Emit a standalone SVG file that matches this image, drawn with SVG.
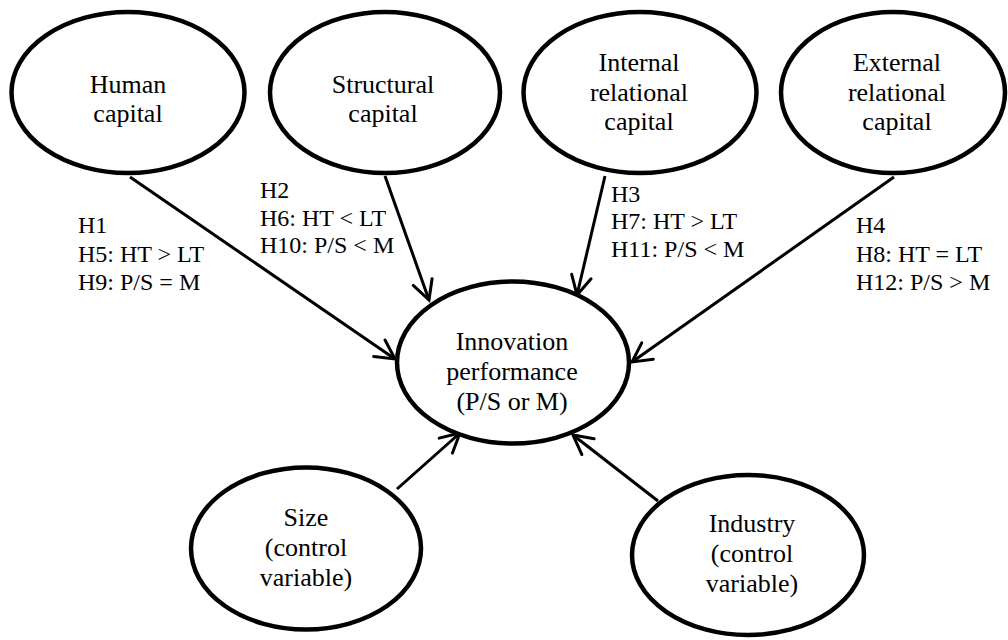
<svg xmlns="http://www.w3.org/2000/svg" width="1008" height="640" viewBox="0 0 1008 640">
<defs>
<style>
.node ellipse{fill:#fff;stroke:#000;stroke-width:4.5}
.node text{font-size:26px;fill:#000;text-anchor:middle}
.lbl text{font-size:24px;fill:#000}
.edges line{stroke:#000;stroke-width:3;marker-end:url(#arr)}
</style>
<marker id="arr" markerUnits="userSpaceOnUse" markerWidth="26" markerHeight="26" viewBox="0 0 26 26" refX="23" refY="13" orient="auto">
<path d="M4,3 L23,13 L4,23" fill="none" stroke="#000" stroke-width="3" stroke-linecap="round"/>
</marker>
</defs>
<rect width="1008" height="640" fill="#fff"/>
<g class="edges" id="connectors">
<line x1="130" y1="177" x2="395" y2="359"/>
<line x1="385" y1="176" x2="429" y2="300"/>
<line x1="605" y1="176" x2="577" y2="295"/>
<line x1="894" y1="177" x2="632" y2="362"/>
<line x1="397" y1="489" x2="460" y2="433"/>
<line x1="658" y1="501" x2="573" y2="435"/>
</g>
<g font-family="'Liberation Serif', Tinos, 'Times New Roman', 'Nimbus Roman', 'DejaVu Serif', serif">
<g class="node" id="human">
<ellipse cx="128" cy="92.5" rx="116.5" ry="80.5"/>
<text x="128" y="93">Human</text>
<text x="128" y="122">capital</text>
</g>
<g class="node" id="structural">
<ellipse cx="385" cy="92.5" rx="115" ry="80.5"/>
<text x="383" y="93">Structural</text>
<text x="383" y="122">capital</text>
</g>
<g class="node" id="internal">
<ellipse cx="640" cy="92.5" rx="116.5" ry="80.5"/>
<text x="639" y="71">Internal</text>
<text x="639" y="100.5">relational</text>
<text x="639" y="130">capital</text>
</g>
<g class="node" id="external">
<ellipse cx="893" cy="92.5" rx="112" ry="80.5"/>
<text x="897" y="71">External</text>
<text x="897" y="100.5">relational</text>
<text x="897" y="130">capital</text>
</g>
<g class="node" id="innovation">
<ellipse cx="513" cy="362.5" rx="116" ry="81"/>
<text x="512" y="350">Innovation</text>
<text x="512" y="380">performance</text>
<text x="512" y="410">(P/S or M)</text>
</g>
<g class="node" id="size">
<ellipse cx="306" cy="548.5" rx="115" ry="81"/>
<text x="306" y="526">Size</text>
<text x="306" y="556">(control</text>
<text x="306" y="586">variable)</text>
</g>
<g class="node" id="industry">
<ellipse cx="748" cy="555" rx="116" ry="80"/>
<text x="752" y="532">Industry</text>
<text x="752" y="562">(control</text>
<text x="752" y="592">variable)</text>
</g>
<g class="lbl" id="label-h1">
<text x="78" y="233">H1</text>
<text x="78" y="261.5">H5: HT &gt; LT</text>
<text x="78" y="289.5">H9: P/S = M</text>
</g>
<g class="lbl" id="label-h2">
<text x="260" y="198">H2</text>
<text x="260" y="225.5">H6: HT &lt; LT</text>
<text x="260" y="252.5">H10: P/S &lt; M</text>
</g>
<g class="lbl" id="label-h3">
<text x="611" y="201.5">H3</text>
<text x="611" y="229">H7: HT &gt; LT</text>
<text x="611" y="256.5">H11: P/S &lt; M</text>
</g>
<g class="lbl" id="label-h4">
<text x="856" y="233">H4</text>
<text x="856" y="261.5">H8: HT = LT</text>
<text x="856" y="289.5">H12: P/S &gt; M</text>
</g>
</g>
</svg>
